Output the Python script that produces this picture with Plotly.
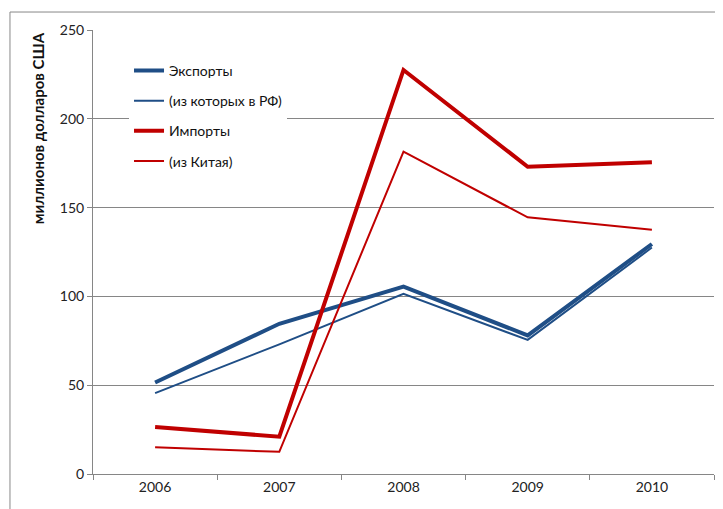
import plotly.graph_objects as go

years = ["2006", "2007", "2008", "2009", "2010"]
exports = [51.5, 84.6, 105.5, 78, 129.5]
exports_rf = [45.5, 73, 101.5, 75.5, 127.5]
imports = [26.5, 21, 227.5, 173, 175.5]
imports_cn = [15, 12.5, 181.5, 144.5, 137.5]

BLUE = "#1F4E86"
RED = "#C00000"
FONT = "Lato, 'Open Sans', sans-serif"

fig = go.Figure()
series = [
    ("Экспорты", exports, BLUE, 4),
    ("(из которых в РФ)", exports_rf, BLUE, 2),
    ("Импорты", imports, RED, 4),
    ("(из Китая)", imports_cn, RED, 2),
]
for i, (name, vals, col, w) in enumerate(series):
    fig.add_trace(go.Scatter(
        x=years, y=vals, name=name, mode="lines",
        line=dict(color=col, width=w),
        legendgroup=f"g{i}",
    ))

fig.update_layout(
    width=723, height=509,
    margin=dict(l=85, r=17, t=22, b=43),
    paper_bgcolor="white", plot_bgcolor="white",
    font=dict(family=FONT, size=14, color="#222"),
    showlegend=True,
    legend=dict(
        x=0.058, y=0.944, xanchor="left", yanchor="top",
        bgcolor="white", borderwidth=0,
        traceorder="grouped", tracegroupgap=9,
        font=dict(family=FONT, size=14, color="#111"),
    ),
    xaxis=dict(
        type="category", showgrid=False, showline=True,
        linecolor="#868686", linewidth=1,
        ticks="outside", tickson="boundaries", ticklen=5, tickcolor="#868686",
        tickfont=dict(size=14, color="#222"),
        range=[-0.5, 4.5], zeroline=False,
    ),
    yaxis=dict(
        range=[0, 250], tickvals=[0, 50, 100, 150, 200, 250],
        showgrid=True, gridcolor="#868686", gridwidth=1,
        showline=True, linecolor="#868686", linewidth=1,
        ticks="outside", ticklen=5, tickcolor="#868686",
        tickfont=dict(size=14, color="#222"), zeroline=False,
    ),
    annotations=[dict(
        text="<b>миллионов долларов США</b>", textangle=-90,
        xref="paper", yref="paper", x=-0.088, y=1.0,
        xanchor="center", yanchor="top", showarrow=False,
        font=dict(family=FONT, size=15, color="#111"),
    )],
    shapes=[dict(
        type="rect", xref="paper", yref="paper",
        x0=-0.1337, y0=-0.3, x1=1.1, y1=1.0405,
        line=dict(color="#888888", width=1), layer="below",
    )],
)

fig.write_html("out.html")
